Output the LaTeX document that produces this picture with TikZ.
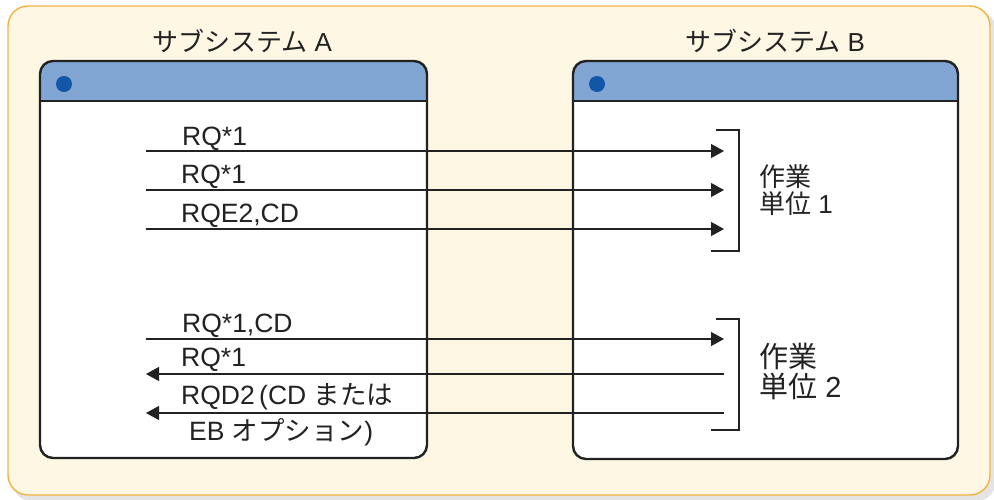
\documentclass[tikz,border=0pt]{standalone}
\usepackage{fontspec}
\setmainfont{Liberation Sans}
\newfontfamily\cjk{Noto Sans CJK JP}
\usetikzlibrary{arrows.meta}
\definecolor{cream}{HTML}{FEF7E4}
\definecolor{orangeb}{HTML}{F2B440}
\definecolor{barblue}{HTML}{82A6D3}
\definecolor{dotblue}{HTML}{1256A8}
\definecolor{ink}{HTML}{222222}
\definecolor{shadow}{HTML}{E4E4E4}
\tikzset{
  win/.style={draw=ink, line width=2.4pt, rounded corners=13pt},
  msg/.style={draw=ink, line width=1.2pt},
  tip/.style={-{Triangle[length=13pt,width=14pt]}},
  lbl/.style={font=\fontsize{26.5}{30}\selectfont, inner sep=0pt, text=ink},
  brk/.style={draw=ink, line width=1.1pt},
}
\begin{document}
\begin{tikzpicture}[x=1pt,y=-1pt]
\useasboundingbox (0,0) rectangle (994,499);
% outer panel
\fill[shadow, rounded corners=20pt] (12,10) rectangle (996,501);
\fill[cream, draw=orangeb, line width=1.4pt, rounded corners=20pt] (8,6) rectangle (990,495);
% titles
\node[lbl, font=\fontsize{26}{30}\selectfont] (ta) at (242,41) {{\cjk サブシステム} A};
\node[lbl, font=\fontsize{26}{30}\selectfont] (tb) at (775,41) {{\cjk サブシステム} B};
% window A
\fill[white, rounded corners=13pt] (40,61) rectangle (427,458);
\begin{scope}
  \clip[rounded corners=13pt] (40,61) rectangle (427,458);
  \fill[barblue] (40,61) rectangle (427,101);
\end{scope}
\draw[ink, line width=2.4pt] (40,101) -- (427,101);
\draw[win] (40,61) rectangle (427,458);
\fill[dotblue] (64,84) circle (8);
% window B
\fill[white, rounded corners=13pt] (573,61) rectangle (958,459);
\begin{scope}
  \clip[rounded corners=13pt] (573,61) rectangle (958,459);
  \fill[barblue] (573,61) rectangle (958,101);
\end{scope}
\draw[ink, line width=2.4pt] (573,101) -- (958,101);
\draw[win] (573,61) rectangle (958,459);
\fill[dotblue] (597,84) circle (8);
% coordinates
\coordinate (l1) at (146,151); \coordinate (r1) at (724,151);
\coordinate (l2) at (146,190); \coordinate (r2) at (724,190);
\coordinate (l3) at (146,229); \coordinate (r3) at (724,229);
\coordinate (l4) at (146,339); \coordinate (r4) at (724,339);
\coordinate (l5) at (146,374); \coordinate (r5) at (724,374);
\coordinate (l6) at (146,413); \coordinate (r6) at (724,413);
\draw[msg, tip] (l1) -- (r1);
\draw[msg, tip] (l2) -- (r2);
\draw[msg, tip] (l3) -- (r3);
\draw[msg, tip] (l4) -- (r4);
\draw[msg, tip] (r5) -- (l5);
\draw[msg, tip] (r6) -- (l6);
% labels
\node[lbl, anchor=base west] (m1) at (182,145) {RQ*1};
\node[lbl, anchor=base west] (m2) at (181,183) {RQ*1};
\node[lbl, anchor=base west] (m3) at (181,222) {RQE2,CD};
\node[lbl, anchor=base west] (m4) at (182,332) {RQ*1,CD};
\node[lbl, anchor=base west] (m5) at (181,366) {RQ*1};
\node[lbl, anchor=base west] (m6) at (181,404) {RQD2\,(CD {\cjk または}};
\node[lbl, anchor=base west] (m7) at (189,440) {EB {\cjk オプション})};
% brackets
\draw[brk] (716,130) -- (739,130) -- (739,251) -- (711,251);
\draw[brk] (716,319) -- (739,319) -- (739,430) -- (711,430);
\node[lbl, anchor=north west, align=left, font=\fontsize{26}{27}\selectfont] (u1) at (759,164) {{\cjk 作業}\\{\cjk 単位} 1};
\node[lbl, anchor=north west, align=left, font=\fontsize{29}{30}\selectfont] (u2) at (759,343) {{\cjk 作業}\\{\cjk 単位} 2};
\end{tikzpicture}
\end{document}
